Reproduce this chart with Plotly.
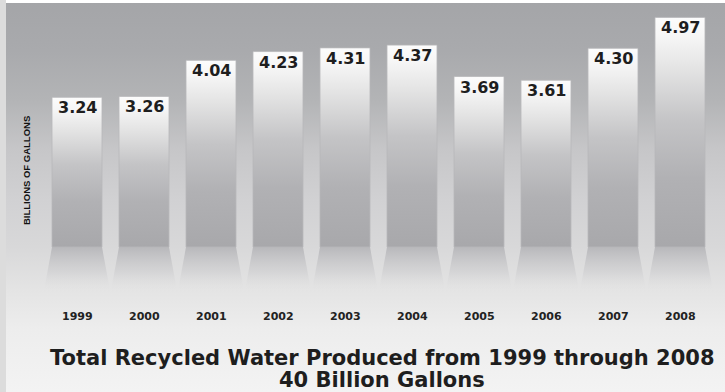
import plotly.graph_objects as go

# ---- data ----
years = ["1999", "2000", "2001", "2002", "2003", "2004", "2005", "2006", "2007", "2008"]
values = [3.24, 3.26, 4.04, 4.23, 4.31, 4.37, 3.69, 3.61, 4.30, 4.97]
value_labels = ["3.24", "3.26", "4.04", "4.23", "4.31", "4.37", "3.69", "3.61", "4.30", "4.97"]
title_line1 = "Total Recycled Water Produced from 1999 through 2008"
title_line2 = "40 Billion Gallons"
y_title = "BILLIONS OF GALLONS"

# ---- layout constants ----
W, H = 725, 392
X_RANGE = [-1.1493, 9.6716]
Y_RANGE = [-3.1385, 5.3463]
HALF_W = 0.373
REFL_HALF_W = 0.5
REFL_DEPTH = 1.0
BOLD = "DejaVu Sans"

fig = go.Figure()

# background gradient (covers whole plotting area)
fig.add_trace(go.Scatter(
    x=[X_RANGE[0], X_RANGE[0], X_RANGE[1], X_RANGE[1], X_RANGE[0]],
    y=[Y_RANGE[0], Y_RANGE[1], Y_RANGE[1], Y_RANGE[0], Y_RANGE[0]],
    mode="none", fill="toself",
    fillgradient=dict(type="vertical", colorscale=[
        [0.0, "#f3f3f3"], [0.16, "#ededed"], [0.26, "#e4e4e4"],
        [0.37, "#d8d8d9"], [0.49, "#d1d1d3"], [0.62, "#c6c6c8"],
        [0.745, "#b3b4b6"], [0.87, "#a9aaad"], [1.0, "#a4a5a8"]]),
    hoverinfo="skip", showlegend=False))

# bars + reflections
for i, (yr, v) in enumerate(zip(years, values)):
    # reflection below baseline
    fig.add_trace(go.Scatter(
        x=[i - HALF_W, i - REFL_HALF_W, i + REFL_HALF_W, i + HALF_W, i - HALF_W],
        y=[0, -REFL_DEPTH, -REFL_DEPTH, 0, 0],
        mode="none", fill="toself",
        fillgradient=dict(type="vertical", colorscale=[
            [0.0, "rgba(230,230,230,0)"], [0.45, "rgba(205,205,207,0.55)"],
            [1.0, "rgba(184,184,187,1)"]]),
        hoverinfo="skip", showlegend=False))
    # bar body
    fig.add_trace(go.Scatter(
        x=[i - HALF_W, i - HALF_W, i + HALF_W, i + HALF_W, i - HALF_W],
        y=[0, v, v, 0, 0],
        mode="lines", line=dict(color="#b8b8ba", width=0.8), fill="toself",
        fillgradient=dict(type="vertical", colorscale=[
            [0.0, "#a8a8ab"], [0.3, "#b1b1b4"], [0.55, "#c4c4c6"],
            [0.78, "#e4e4e4"], [0.92, "#f6f6f6"], [1.0, "#fcfcfc"]]),
        hoverinfo="skip", showlegend=False, name=yr))

annotations = []
for i, (v, lab) in enumerate(zip(values, value_labels)):
    annotations.append(dict(
        x=i, y=v, xref="x", yref="y", text=f"<b>{lab}</b>", showarrow=False,
        yanchor="top", yshift=1,
        font=dict(family=BOLD, size=16, color="#1e1e1e")))
for i, yr in enumerate(years):
    annotations.append(dict(
        x=i, y=-1.5, xref="x", yref="y", text=f"<b>{yr}</b>", showarrow=False,
        yanchor="middle", font=dict(family=BOLD, size=11, color="#222222")))

annotations.append(dict(
    x=26 / W, y=1 - 171 / H, xref="paper", yref="paper", text=f"<b>{y_title}</b>",
    showarrow=False, textangle=-90, xanchor="center", yanchor="middle",
    font=dict(family="Liberation Sans Narrow, Liberation Sans, sans-serif", size=9.5, color="#111111")))
annotations.append(dict(
    x=382 / W, y=1 - 358 / H, xref="paper", yref="paper", text=f"<b>{title_line1}</b>",
    showarrow=False, xanchor="center", yanchor="middle",
    font=dict(family=BOLD, size=21, color="#1e1e1e")))
annotations.append(dict(
    x=382 / W, y=1 - 380 / H, xref="paper", yref="paper", text=f"<b>{title_line2}</b>",
    showarrow=False, xanchor="center", yanchor="middle",
    font=dict(family=BOLD, size=21, color="#1e1e1e")))

fig.update_layout(
    width=W, height=H,
    margin=dict(l=0, r=0, t=0, b=0),
    paper_bgcolor="#ffffff", plot_bgcolor="#ffffff",
    xaxis=dict(range=X_RANGE, visible=False, fixedrange=True),
    yaxis=dict(range=Y_RANGE, visible=False, fixedrange=True),
    annotations=annotations,
    shapes=[
        dict(type="rect", xref="paper", yref="paper", x0=0, x1=1, y0=1 - 3 / H, y1=1,
             fillcolor="#ffffff", line=dict(width=0), layer="above"),
        dict(type="rect", xref="paper", yref="paper", x0=0, x1=6 / W, y0=0, y1=1,
             fillcolor="#dcdcdc", line=dict(width=0), layer="above"),
    ],
    showlegend=False,
)

fig.write_html("out.html")
